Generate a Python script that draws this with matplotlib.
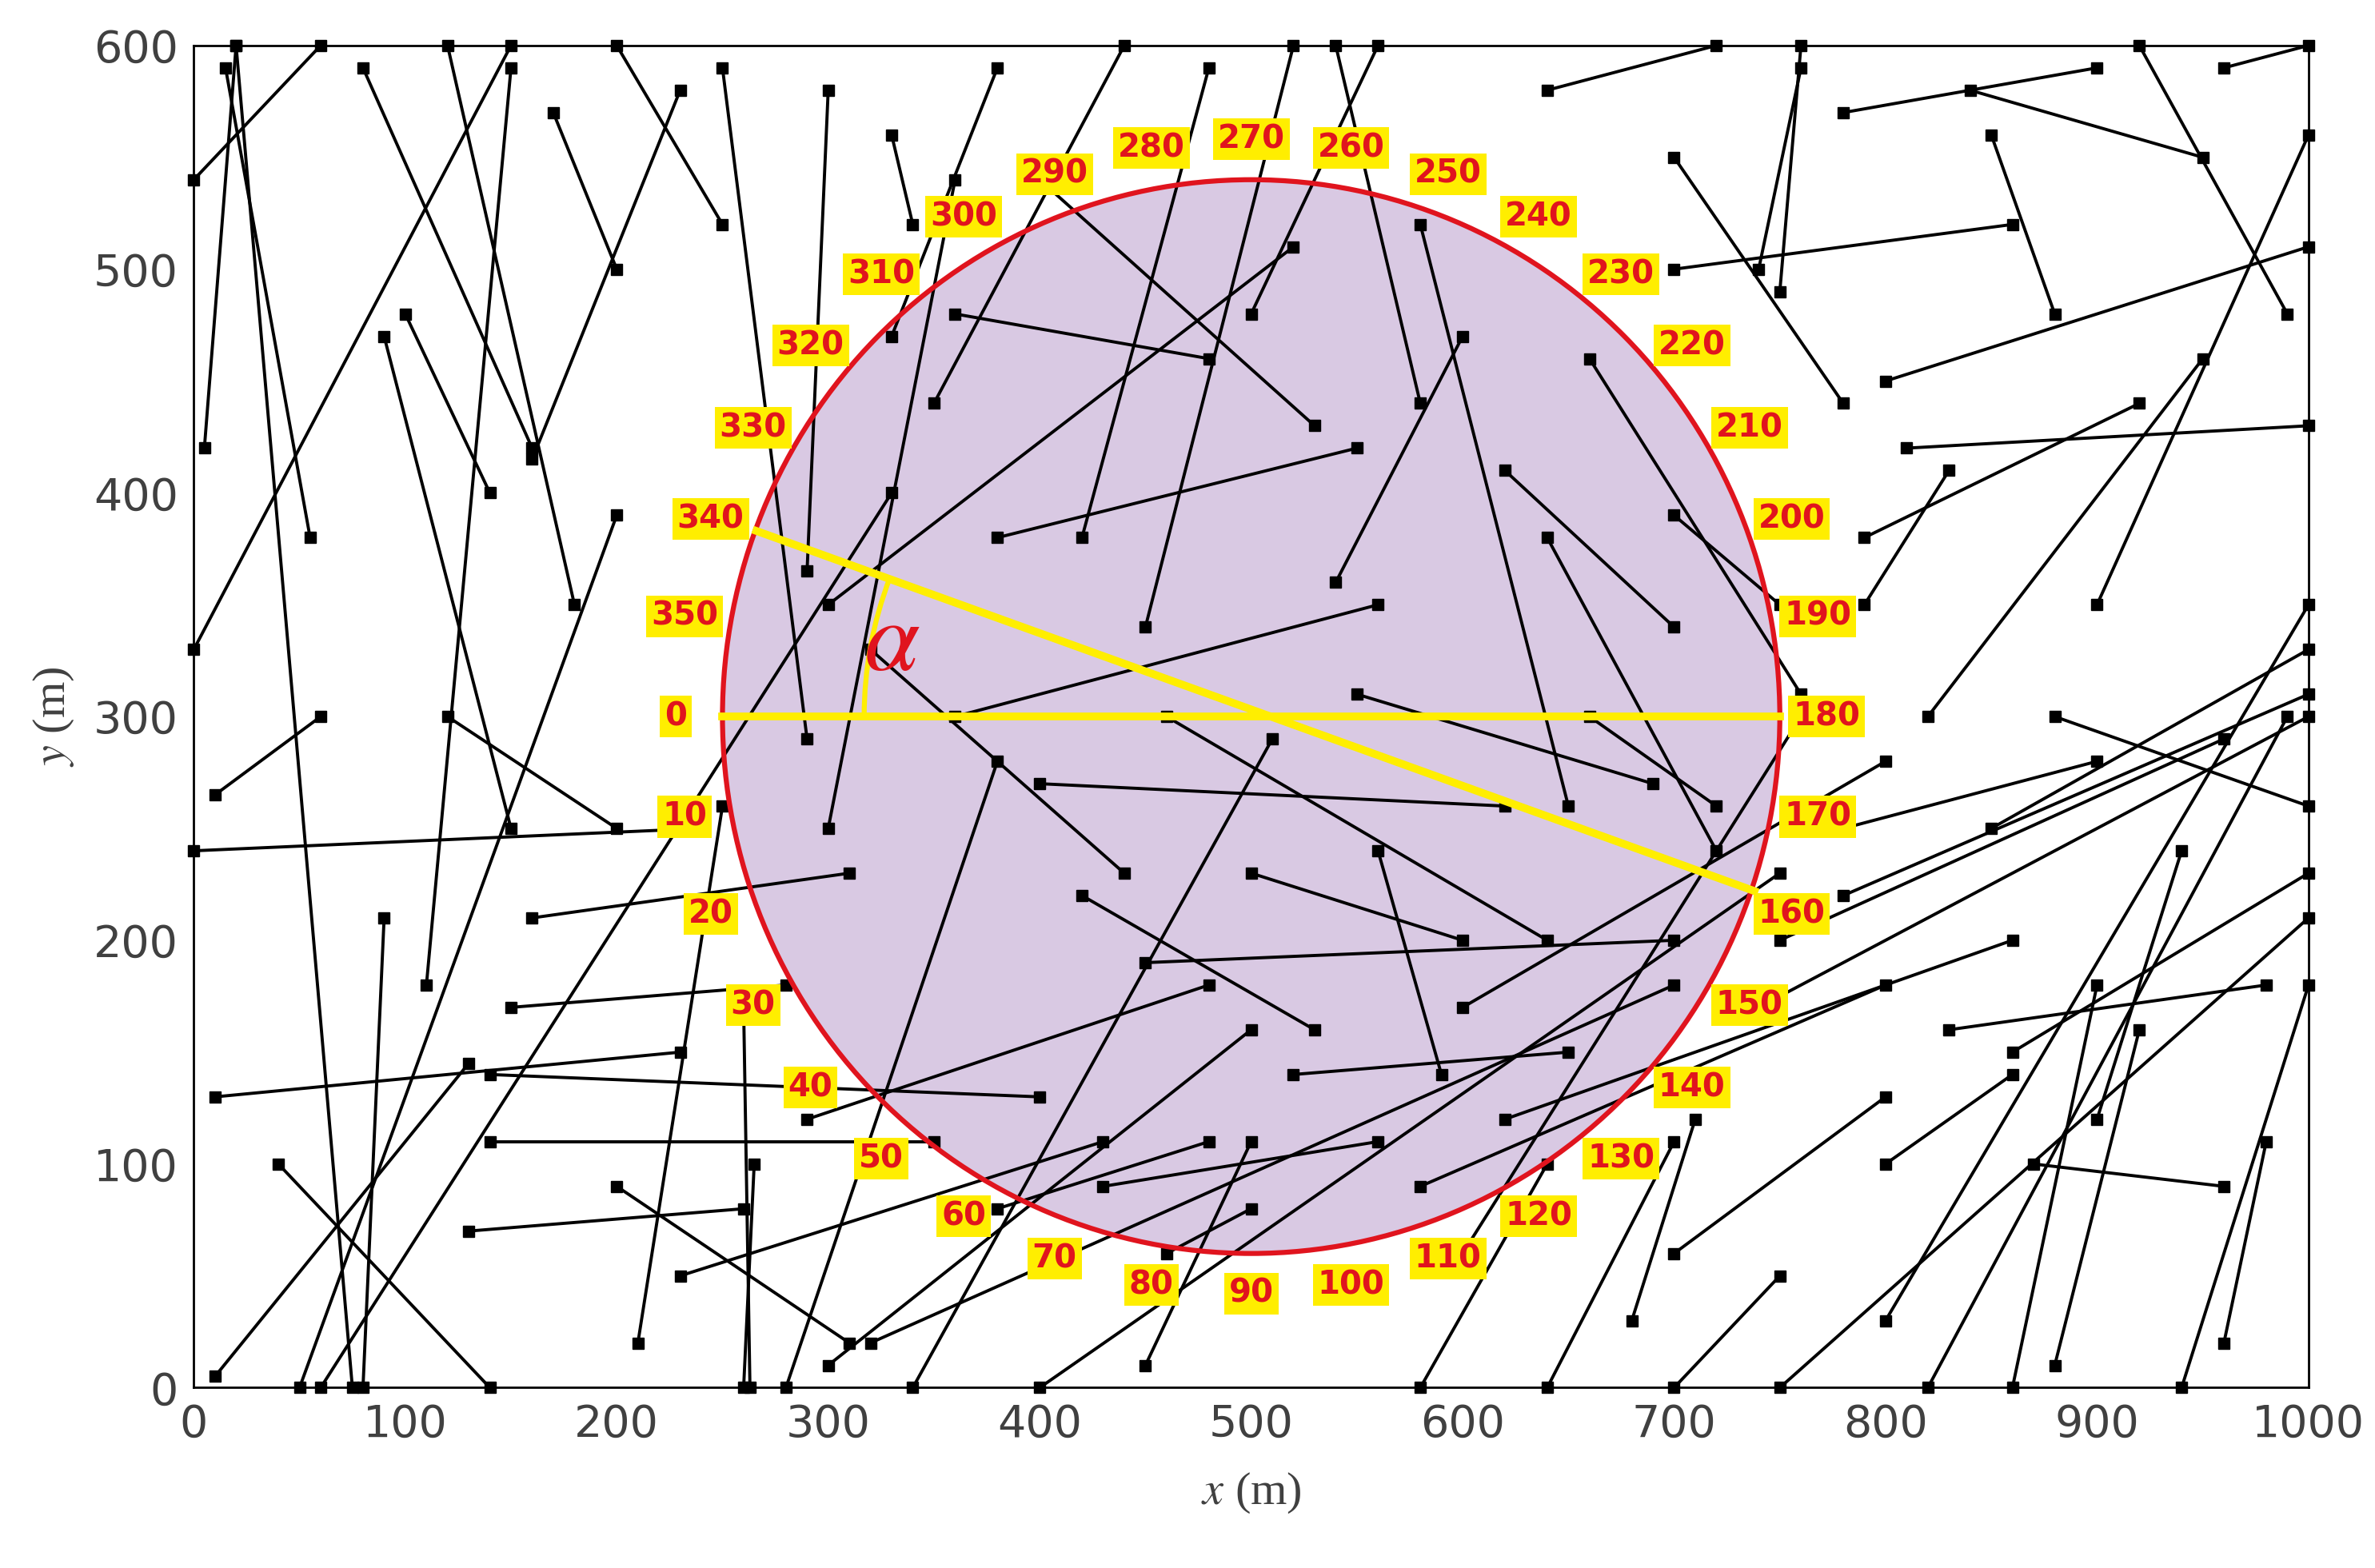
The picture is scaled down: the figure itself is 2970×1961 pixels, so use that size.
import numpy as np
import matplotlib
matplotlib.use("Agg")
import matplotlib.pyplot as plt
from matplotlib.patches import Ellipse, Arc

plt.rcParams['mathtext.fontset'] = 'stix'

# node trajectories: (x1, y1, x2, y2) in metres
segments = [
    (15, 590, 55, 380), (20, 600, 75, 0), (0, 540, 60, 600), (5, 420, 20, 600),
    (10, 5, 130, 145), (10, 130, 230, 150), (40, 100, 140, 0), (50, 0, 200, 390),
    (60, 0, 330, 400), (0, 240, 240, 250), (10, 265, 60, 300), (80, 0, 90, 210),
    (120, 600, 180, 350), (150, 590, 110, 180), (200, 600, 250, 520), (230, 580, 160, 415),
    (250, 590, 290, 290), (300, 580, 290, 365), (330, 560, 340, 520), (0, 330, 150, 600),
    (80, 590, 160, 420), (100, 480, 140, 400), (170, 570, 200, 500), (90, 470, 150, 250),
    (120, 300, 200, 250), (150, 170, 280, 180), (160, 210, 310, 230), (140, 140, 400, 130),
    (130, 70, 260, 80), (140, 110, 350, 110), (200, 90, 310, 20), (230, 50, 430, 110),
    (210, 20, 250, 260), (260, 0, 265, 100), (263, 0, 260, 170), (300, 10, 500, 160),
    (280, 0, 380, 280), (340, 0, 510, 290), (320, 20, 700, 180), (400, 0, 750, 230),
    (450, 10, 500, 110), (290, 120, 480, 180), (300, 250, 360, 540), (330, 470, 380, 590),
    (350, 440, 440, 600), (400, 540, 530, 430), (360, 480, 480, 460), (380, 380, 550, 420),
    (300, 350, 520, 510), (320, 330, 440, 230), (360, 300, 560, 350), (400, 270, 620, 260),
    (420, 220, 530, 160), (450, 190, 700, 200), (460, 300, 640, 200), (500, 480, 560, 600),
    (480, 590, 420, 380), (520, 600, 450, 340), (540, 600, 580, 440), (580, 520, 650, 260),
    (600, 470, 540, 360), (620, 410, 700, 340), (640, 380, 720, 240), (660, 460, 760, 310),
    (660, 300, 720, 260), (700, 390, 750, 350), (550, 310, 690, 270), (500, 230, 600, 200),
    (560, 240, 590, 140), (520, 140, 650, 150), (580, 90, 800, 180), (600, 60, 760, 300),
    (640, 0, 700, 110), (580, 0, 640, 100), (700, 0, 750, 50), (680, 30, 710, 120),
    (750, 0, 1000, 210), (800, 30, 1000, 350), (820, 0, 990, 300), (860, 0, 900, 180),
    (880, 10, 920, 160), (900, 120, 940, 240), (940, 0, 1000, 180), (960, 20, 980, 110),
    (700, 500, 860, 520), (750, 490, 760, 600), (780, 570, 900, 590), (850, 560, 880, 480),
    (800, 450, 1000, 510), (810, 420, 1000, 430), (790, 380, 920, 440), (820, 300, 950, 460),
    (850, 250, 1000, 330), (900, 350, 1000, 560), (920, 600, 990, 480), (960, 590, 1000, 600),
    (840, 580, 950, 550), (640, 580, 720, 600), (700, 550, 780, 440), (760, 590, 740, 500),
    (860, 150, 1000, 230), (870, 100, 960, 90), (880, 300, 1000, 260), (780, 250, 900, 280),
    (790, 350, 830, 410), (830, 160, 980, 180), (800, 100, 860, 140), (700, 60, 800, 130),
    (740, 170, 1000, 300), (750, 200, 960, 290), (780, 220, 1000, 310), (620, 120, 860, 200),
    (600, 170, 800, 280), (380, 80, 480, 110), (430, 90, 560, 110), (460, 60, 500, 80),
]

center = (500, 300)
width, height = 500, 480
angles = list(range(0, 360, 10))
diag = [(266, 383), (738, 222)]

fig = plt.figure(figsize=(29.70, 19.61), dpi=100)
ax = fig.add_axes([0.0816, 0.115, 0.8904, 0.856])

ax.add_patch(Ellipse(center, width, height, facecolor='#d9c9e3', edgecolor='none', zorder=1))

for x1, y1, x2, y2 in segments:
    ax.plot([x1, x2], [y1, y2], color='black', lw=2.8, zorder=2,
            marker='s', markersize=10, clip_on=False)

ax.add_patch(Ellipse(center, width, height, facecolor='none', edgecolor='#e0141e', lw=4.5, zorder=3))

ax.plot([250, 750], [300, 300], color='#ffee00', lw=7, zorder=4)
ax.plot([diag[0][0], diag[1][0]], [diag[0][1], diag[1][1]], color='#ffee00', lw=7, zorder=4)
ax.add_patch(Arc(center, 366, 346, theta1=160, theta2=180, color='#ffee00', lw=4.5, zorder=4))
ax.text(330, 333, r'$\alpha$', color='#e0141e', fontsize=90, ha='center', va='center', zorder=5)

rx, ry = 272, 258
for a in angles:
    t = np.deg2rad(a)
    lx = center[0] - rx * np.cos(t)
    ly = center[1] - ry * np.sin(t)
    ax.text(lx, ly, str(a), color='#e0141e', fontsize=29, fontweight='bold',
            ha='center', va='center', zorder=6,
            bbox=dict(boxstyle='square,pad=0.15', facecolor='#ffee00', edgecolor='none'))

ax.set_xlim(0, 1000)
ax.set_ylim(0, 600)
ax.set_xticks(range(0, 1001, 100))
ax.set_yticks(range(0, 601, 100))
ax.tick_params(length=0, pad=14, labelsize=40, labelcolor='#404040')
for s in ax.spines.values():
    s.set_linewidth(2)
ax.set_xlabel(r'$x$ (m)', fontsize=42, family='Liberation Serif', color='#404040', labelpad=22)
ax.set_ylabel(r'$y$ (m)', fontsize=42, family='Liberation Serif', color='#404040', labelpad=16)

fig.savefig('out.png', dpi=100)
